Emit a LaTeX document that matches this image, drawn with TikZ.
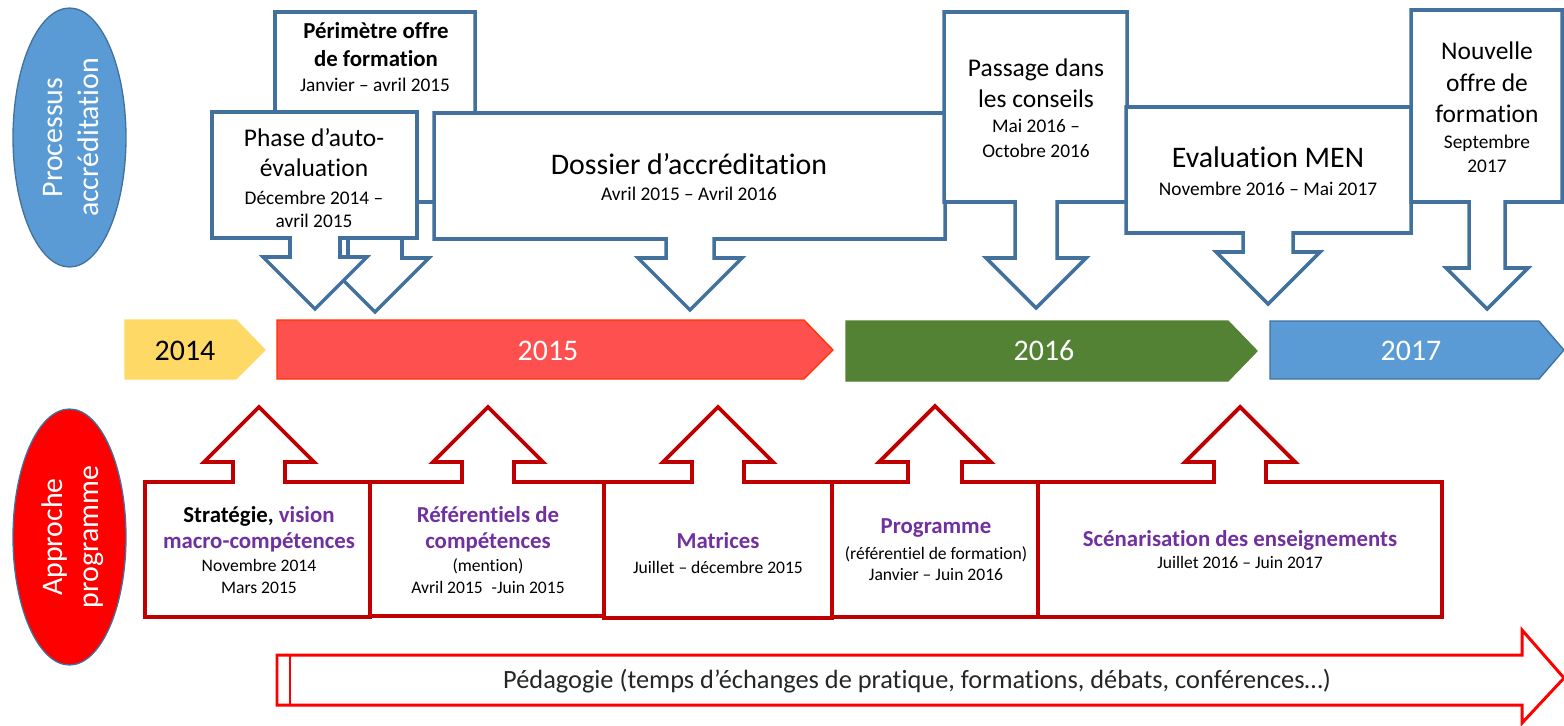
\documentclass[tikz,border=0pt]{standalone}
\usepackage{fontspec}
\setmainfont{Carlito}[Ligatures={NoCommon}]
\usetikzlibrary{shapes.geometric}
\definecolor{cblue}{HTML}{41719C}
\definecolor{cred}{HTML}{C00000}
\definecolor{purp}{HTML}{7030A0}
\definecolor{eblue}{HTML}{5B9BD5}
\definecolor{yel}{HTML}{FFD966}
\definecolor{r15}{HTML}{FF5050}
\definecolor{r15b}{HTML}{FF3300}
\definecolor{grn}{HTML}{548235}
\definecolor{pured}{HTML}{FF0000}
\newcommand{\downcall}[9]{%
  \draw[#1] (#2,#3) -- (#4,#3) -- (#4,#5) -- ({#6+#7},#5) -- ({#6+#7},#9) -- ({#6+#8},#9)
    -- (#6,{#9+#8}) -- ({#6-#8},#9) -- ({#6-#7},#9) -- ({#6-#7},#5) -- (#2,#5) -- cycle;}
\newcommand{\upcall}[9]{%
  \draw[#1] (#2,#5) -- (#2,#3) -- ({#6-#7},#3) -- ({#6-#7},#9) -- ({#6-#8},#9)
    -- (#6,{#9-#8}) -- ({#6+#8},#9) -- ({#6+#7},#9) -- ({#6+#7},#3) -- (#4,#3) -- (#4,#5) -- cycle;}
\begin{document}
\begin{tikzpicture}[x=0.02cm,y=-0.02cm,
  callt/.style={draw=cblue,line width=2pt,fill=white,line join=miter},
  callb/.style={draw=cred,line width=2.2pt,fill=white,line join=miter},
  tx/.style={anchor=base,inner sep=0pt,outer sep=0pt},
  big/.style={tx,font=\fontsize{17}{20}\selectfont},
  mid/.style={tx,font=\fontsize{14.5}{17}\selectfont},
  sm/.style={tx,font=\fontsize{11}{13}\selectfont},
  bsm/.style={tx,font=\fontsize{10}{12}\selectfont},
  bb/.style={tx,font=\bfseries\fontsize{13}{15}\selectfont},
  bbp/.style={bb,text=purp},
  yearbar/.style={line width=0.75pt,line join=miter},
  ]
\useasboundingbox (0,0) rectangle (1564,726);

% side ellipses
\node[ellipse,draw=cblue,fill=eblue,line width=0.75pt,minimum width=2.26cm,minimum height=5.18cm,inner sep=0pt] (ell1) at (69.5,137.5) {};
\node[big,rotate=90,text=white] (el1a) at (62,137.5) {Processus};
\node[big,rotate=90,text=white] (el1b) at (98,137.5) {accréditation};
\node[ellipse,draw=cblue,fill=pured,line width=0.75pt,minimum width=2.26cm,minimum height=5.12cm,inner sep=0pt] (ell2) at (69.5,537) {};
\node[big,rotate=90,text=white] (el2a) at (62,537) {Approche};
\node[big,rotate=90,text=white] (el2b) at (98,537) {programme};

% top callouts
\downcall{callt}{275}{12}{475}{202}{375}{27}{54}{258}
\downcall{callt}{212}{112}{417}{238}{315}{25}{52}{257}
\downcall{callt}{434}{113}{945}{239}{690}{24}{52}{258}
\downcall{callt}{944}{12}{1127}{202}{1036}{21}{50}{258}
\downcall{callt}{1126}{107}{1411}{233}{1268}{25}{52}{252}
\downcall{callt}{1411}{10}{1562}{202}{1487}{18}{41}{268}

\node[bb] (per1) at (376,39) {Périmètre offre};
\node[bb] (per2) at (376,67) {de formation};
\node[sm] (per3) at (375,92) {Janvier – avril 2015};

\node[mid] (ph1) at (314,147) {Phase d’auto-};
\node[mid] (ph2) at (314,177) {évaluation};
\node[sm] (ph3) at (314,205) {Décembre 2014 –};
\node[sm] (ph4) at (314,227) {avril 2015};

\node[big] (do1) at (689,174) {Dossier d’accréditation};
\node[sm] (do2) at (689,200) {Avril 2015 – Avril 2016};

\node[mid] (pa1) at (1036,77) {Passage dans};
\node[mid] (pa2) at (1036,108) {les conseils};
\node[sm] (pa3) at (1036,133) {Mai 2016 –};
\node[sm] (pa4) at (1036,158) {Octobre 2016};

\node[big] (ev1) at (1268,168) {Evaluation MEN};
\node[sm] (ev2) at (1268,195) {Novembre 2016 – Mai 2017};

\node[mid] (no1) at (1487,60) {Nouvelle};
\node[mid] (no2) at (1487,92) {offre de};
\node[mid] (no3) at (1487,123) {formation};
\node[sm] (no4) at (1487,149) {Septembre};
\node[sm] (no5) at (1487,173) {2017};

% timeline
\draw[yearbar,draw=yel,fill=yel] (125,320) -- (236,320) -- (265,350) -- (236,379) -- (125,379) -- cycle;
\draw[yearbar,draw=r15b,fill=r15] (277,320) -- (804,320) -- (833,350) -- (804,379) -- (277,379) -- cycle;
\draw[yearbar,draw=grn,fill=grn] (846,321) -- (1228,321) -- (1257,351) -- (1228,381) -- (846,381) -- cycle;
\draw[yearbar,draw=cblue,fill=eblue] (1270,321) -- (1539,321) -- (1564,350) -- (1539,379) -- (1270,379) -- cycle;
\node[big] (y14) at (185,360) {2014};
\node[big,text=white] (y15) at (548,360) {2015};
\node[big,text=white] (y16) at (1044,360) {2016};
\node[big,text=white] (y17) at (1411,360) {2017};

% bottom callouts
\upcall{callb}{145}{482}{370}{617}{259}{26}{55}{462}
\upcall{callb}{370}{482}{606}{616}{488}{26}{55}{462}
\upcall{callb}{604}{482}{832}{618}{718}{26}{55}{462}
\upcall{callb}{832}{482}{1038}{617}{935}{27}{56}{462}
\upcall{callb}{1038}{482}{1442}{617}{1240}{26}{55}{462}

\node[bb] (st1) at (259,522) {Stratégie, \textcolor{purp}{vision}};
\node[bbp] (st2) at (259,548) {macro-compétences};
\node[bsm] (st3) at (259,571) {Novembre 2014};
\node[bsm] (st4) at (259,593) {Mars 2015};

\node[bbp] (re1) at (488,522) {Référentiels de};
\node[bbp] (re2) at (488,548) {compétences};
\node[bsm] (re3) at (488,571) {(mention)};
\node[bsm] (re4) at (488,593) {Avril 2015\hspace{0.5em}-Juin 2015};

\node[bbp] (ma1) at (718,548) {Matrices};
\node[bsm] (ma2) at (718,573) {Juillet – décembre 2015};

\node[bbp] (pr1) at (936,533) {Programme};
\node[bsm] (pr2) at (936,559) {(référentiel de formation)};
\node[bsm] (pr3) at (936,580) {Janvier – Juin 2016};

\node[bbp] (sc1) at (1240,546) {Scénarisation des enseignements};
\node[bsm] (sc2) at (1240,568) {Juillet 2016 – Juin 2017};

% bottom arrow
\draw[draw=pured,line width=1.7pt,fill=white,line join=miter] (277,655) -- (1522,655) -- (1522,630) -- (1564,678) -- (1522,723) -- (1522,705) -- (277,705) -- cycle;
\draw[draw=pured,line width=1.7pt] (290,655) -- (290,705);
\node[tx,font=\fontsize{15}{17}\selectfont,text=black!85] (ped) at (917,688) {Pédagogie (temps d’échanges de pratique, formations, débats, conférences…)};
\end{tikzpicture}
\end{document}
